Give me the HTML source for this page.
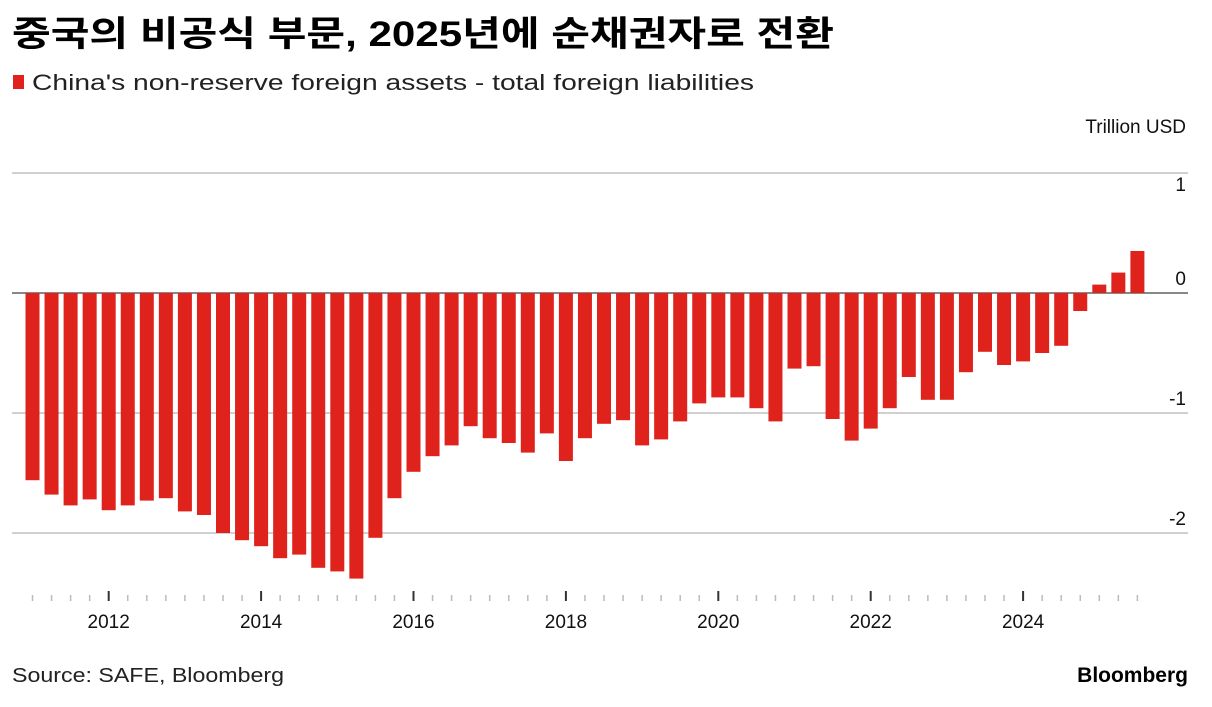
<!DOCTYPE html>
<html><head><meta charset="utf-8">
<style>
html,body{margin:0;padding:0;background:#fff;}
svg{display:block;}
</style></head>
<body>
<svg id="chart" width="1212" height="707" viewBox="0 0 1212 707" xmlns="http://www.w3.org/2000/svg">
  <text x="12" y="46" font-family="'Liberation Sans','Noto Sans CJK KR',sans-serif" font-weight="bold" font-size="35" textLength="822" lengthAdjust="spacingAndGlyphs" fill="#000">중국의 비공식 부문, 2025년에 순채권자로 전환</text>
  <rect x="13" y="75" width="11" height="14" fill="#e0211d"/>
  <text x="32" y="90" font-family="'Liberation Sans',sans-serif" font-size="22" textLength="722" lengthAdjust="spacingAndGlyphs" fill="#222">China's non-reserve foreign assets - total foreign liabilities</text>
  <text x="1186" y="133" text-anchor="end" font-family="'Liberation Sans',sans-serif" font-size="19" fill="#111">Trillion USD</text>
  <g id="grid"></g>
  <g id="bars"></g>
  <g id="xaxis"></g>
  <text x="12" y="682" font-family="'Liberation Sans',sans-serif" font-size="20" textLength="272" lengthAdjust="spacingAndGlyphs" fill="#222">Source: SAFE, Bloomberg</text>
  <text x="1188" y="682" text-anchor="end" font-family="'Liberation Sans',sans-serif" font-weight="bold" font-size="21" fill="#000">Bloomberg</text>
</svg>
<script>
const yTicks = [1, 0, -1, -2];
const yTickLabels = ["1", "0", "-1", "-2"];
const xYears = [2012, 2014, 2016, 2018, 2020, 2022, 2024];
const startYear = 2011;
const values = [-1.56,-1.68,-1.77,-1.72,-1.81,-1.77,-1.73,-1.71,-1.82,-1.85,-2.0,-2.06,-2.11,-2.21,-2.18,-2.29,-2.32,-2.38,-2.04,-1.71,-1.49,-1.36,-1.27,-1.11,-1.21,-1.25,-1.33,-1.17,-1.40,-1.21,
-1.09,-1.06,-1.27,-1.22,-1.07,-0.92,-0.87,-0.87,-0.96,-1.07,-0.63,-0.61,-1.05,-1.23,-1.13,-0.96,-0.70,-0.89,-0.89,-0.66,-0.49,-0.60,-0.57,-0.50,-0.44,-0.15,0.07,0.17,0.35];

const NS = "http://www.w3.org/2000/svg";
const y0 = 293, unit = 120;
function yScale(v){ return y0 - v*unit; }
const x0 = 32.5, step = 19.05;
function xScale(i){ return x0 + i*step; }

const grid = document.getElementById('grid');
yTicks.forEach((t,k)=>{
  const l = document.createElementNS(NS,'line');
  l.setAttribute('x1',12); l.setAttribute('x2',1188);
  l.setAttribute('y1',yScale(t)); l.setAttribute('y2',yScale(t));
  l.setAttribute('stroke', t===0 ? '#888' : '#d0d0d0');
  l.setAttribute('stroke-width', 2);
  
  
  grid.appendChild(l);
  const tx = document.createElementNS(NS,'text');
  tx.setAttribute('x',1186); tx.setAttribute('y', t===1 ? yScale(t)+18 : yScale(t)-8);
  tx.setAttribute('text-anchor','end');
  tx.setAttribute('font-family','Liberation Sans, sans-serif');
  tx.setAttribute('font-size','19'); tx.setAttribute('fill','#111');
  tx.textContent = yTickLabels[k];
  
  
  grid.appendChild(tx);
});

const bars = document.getElementById('bars');
values.forEach((v,i)=>{
  const r = document.createElementNS(NS,'rect');
  const cx = xScale(i), w = 14;
  r.setAttribute('x', cx - w/2);
  r.setAttribute('y', Math.min(yScale(v), y0));
  r.setAttribute('width', w);
  r.setAttribute('height', Math.abs(yScale(v)-y0));
  r.setAttribute('fill', '#e0221c');
  
  
  bars.appendChild(r);
});

const xa = document.getElementById('xaxis');
values.forEach((v,i)=>{
  const t = document.createElementNS(NS,'line');
  const x = xScale(i);
  const major = (i % 4 === 0) && xYears.indexOf(startYear + i/4) >= 0;
  t.setAttribute('x1',x); t.setAttribute('x2',x);
  t.setAttribute('y1', major ? 591 : 595); t.setAttribute('y2', 601);
  t.setAttribute('stroke', major ? '#333' : '#bbb');
  t.setAttribute('stroke-width', major ? 2 : 1.5);
  
  
  xa.appendChild(t);
});
xYears.forEach(yr=>{
  const i = (yr - startYear)*4;
  const tx = document.createElementNS(NS,'text');
  tx.setAttribute('x', xScale(i)); tx.setAttribute('y', 628);
  tx.setAttribute('text-anchor','middle');
  tx.setAttribute('font-family','Liberation Sans, sans-serif');
  tx.setAttribute('font-size','19'); tx.setAttribute('fill','#111');
  tx.textContent = yr;
  
  
  xa.appendChild(tx);
});
</script>
</body></html>
